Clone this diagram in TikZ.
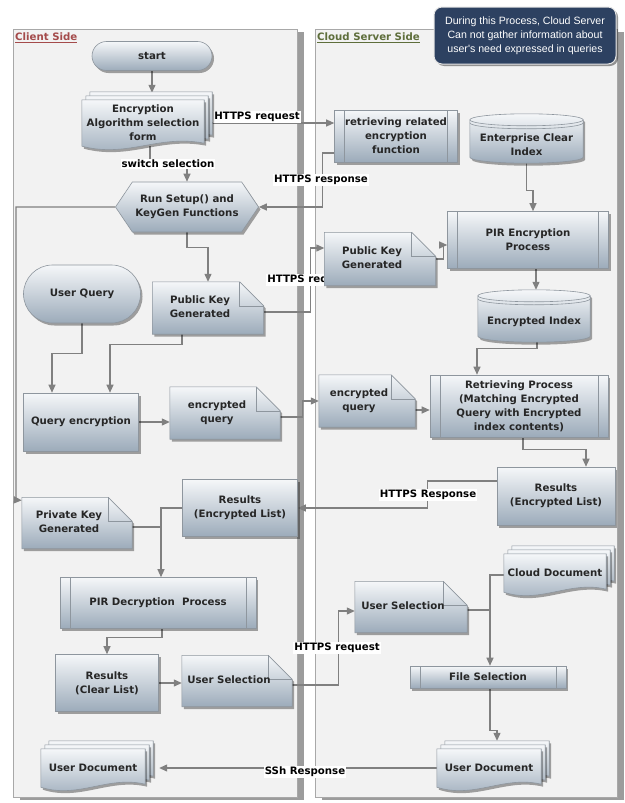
\documentclass[tikz,border=0pt]{standalone}
\usepackage{fontspec}
\setmainfont{DejaVu Sans}
\newfontfamily\calloutfont{Liberation Sans}
\usepackage{tikz}
\usetikzlibrary{arrows.meta, calc, shapes.misc, shapes.symbols, shadows}

\definecolor{boxtop}{HTML}{F5F7F9}
\definecolor{boxbot}{HTML}{9CABBA}
\definecolor{boxedge}{HTML}{8E969E}
\definecolor{flowgray}{HTML}{808080}
\definecolor{panelfill}{HTML}{F2F2F2}
\definecolor{paneledge}{HTML}{A8A8A8}
\definecolor{calloutfill}{HTML}{2D4161}
\definecolor{clientred}{HTML}{A44B4B}
\definecolor{cloudgreen}{HTML}{5E6E3B}
\definecolor{textgray}{HTML}{262626}

\pgfdeclarelayer{panellayer}
\pgfdeclarelayer{linklayer}
\pgfdeclarelayer{shapelayer}
\pgfsetlayers{panellayer,linklayer,shapelayer,main}

\tikzset{
    boxsize/.style 2 args={minimum width=#1pt, minimum height=#2pt},
    boxfill/.style={draw=boxedge, line width=0.6pt, top color=boxtop, bottom color=boxbot,
        drop shadow={shadow xshift=2pt, shadow yshift=-2.5pt, opacity=0.35, fill=black}},
    boxtext/.style={inner sep=0pt, align=center, text=textgray, font=\bfseries\fontsize{10.2}{14}\selectfont},
    box/.style={boxfill, boxtext, rectangle},
    terminal/.style={box, rounded rectangle},
    process/.style={box, path picture={
        \draw[boxedge, line width=0.6pt]
            ([xshift=10pt]path picture bounding box.north west) -- ([xshift=10pt]path picture bounding box.south west)
            ([xshift=-10pt]path picture bounding box.north east) -- ([xshift=-10pt]path picture bounding box.south east);}},
    prep/.style={box, signal, signal to=west and east, signal pointer angle=112},
    shapetext/.style={boxtext},
    notetext/.style={inner sep=0pt, text=textgray, font=\bfseries\fontsize{10.2}{14}\selectfont},
    flow/.style={draw=flowgray, line width=1.2pt, -{Triangle[length=8pt, width=7pt]}},
    link/.style={draw=flowgray, line width=1.2pt},
    linklabel/.style={fill=white, inner sep=1pt, text=black, font=\bfseries\fontsize{10.2}{12}\selectfont},
    panel/.style={fill=panelfill, draw=paneledge, line width=0.8pt,
        drop shadow={shadow xshift=7pt, shadow yshift=-3pt, opacity=0.55, fill=black!70}},
    sidetitle/.style={anchor=west, inner sep=0pt, font=\bfseries\fontsize{10.2}{12}\selectfont},
    remark/.style={rounded corners=8pt, fill=calloutfill, draw=white!80!gray, line width=1pt, text=white,
        align=center, inner sep=0pt, font=\calloutfont\fontsize{10.6}{14}\selectfont,
        drop shadow={shadow xshift=2pt, shadow yshift=-2pt, opacity=0.4, fill=black}}
}

\newcommand\notelines[1]{\begin{tabular}{@{}c@{}}#1\end{tabular}\hspace*{16pt}}
\newcommand\docpath[2]{%
    \path[boxfill] let \p1=(#1.north west), \p2=(#1.south east) in
        (\x1+#2, \y1+#2) -- (\x2+#2, \y1+#2) -- (\x2+#2, \y2+3+#2)
        .. controls ({0.5*\x1+0.5*\x2+15+#2}, \y2+12+#2) and ({0.5*\x1+0.5*\x2-15+#2}, \y2-12+#2) ..
        (\x1+#2, \y2+#2) -- cycle;}
\newcommand\multidoc[1]{\docpath{#1}{8}\docpath{#1}{4}\docpath{#1}{0}}
\newcommand\noteshape[1]{%
    \path[boxfill] (#1.north west) -- ([xshift=-24pt]#1.north east) -- ([yshift=-24pt]#1.north east)
        -- (#1.south east) -- (#1.south west) -- cycle;
    \draw[boxedge, line width=0.6pt] ([xshift=-24pt]#1.north east) |- ([yshift=-24pt]#1.north east);}
\newcommand\cylshape[1]{%
    \path[boxfill] let \p1=(#1.north west), \p2=(#1.south east), \n1={(\x2-\x1)/2} in
        (\x1, \y1+6) -- (\x1, \y2+6) arc[start angle=180, end angle=360, x radius=\n1, y radius=6pt]
        -- (\x2, \y1+6) arc[start angle=0, end angle=180, x radius=\n1, y radius=6pt] -- cycle;
    \draw[boxedge, line width=0.6pt] let \p1=(#1.north west), \p2=(#1.south east), \n1={(\x2-\x1)/2} in
        (\x1, \y1+6) arc[start angle=180, end angle=360, x radius=\n1, y radius=6pt]
        (\x1, \y1+3) arc[start angle=180, end angle=360, x radius=\n1, y radius=6pt];}

\begin{document}
\begin{tikzpicture}[x=1pt, y=1pt]
        \useasboundingbox (0, 0) rectangle (624, -803);

        \begin{pgfonlayer}{panellayer}
            \fill[white] (0, 0) rectangle (624, -803);
            \draw[panel] (13, -29) rectangle (297, -797);
            \draw[panel] (315, -29) rectangle (617, -797);
        \end{pgfonlayer}

        \node (clientttl) at (15, -38)[sidetitle, clientred] {\underline{Client Side}};

        \node (cloudttl) at (317, -38)[sidetitle, cloudgreen] {\underline{Cloud Server Side}};

        \node (remark) at (525, -35.5)[remark, boxsize={182}{57}] {During this Process, Cloud Server\\Can not gather information about\\user's need expressed in queries};

        \node (start) at (152, -56)[terminal, boxsize={120}{29}] {start};

        \node (form) at (143, -123)[shapetext, boxsize={122}{46}] {Encryption\\Algorithm selection\\form};

        \node (hexa) at (187, -207)[prep, boxsize={143}{50}] {Run Setup() and\\KeyGen Functions};

        \node (uq) at (82, -294)[terminal, boxsize={117}{58}] {User Query};

        \node (pkc) at (208, -308)[notetext, boxsize={111}{52}] {\notelines{Public Key\\Generated}};

        \node (qe) at (81, -422)[box, boxsize={115}{58}] {Query encryption};

        \node (eqc) at (225, -413)[notetext, boxsize={110}{52}] {\notelines{encrypted\\query}};

        \node (pkv) at (77, -523)[notetext, boxsize={110}{51}] {\notelines{Private Key\\Generated}};

        \node (rec) at (240, -508)[box, boxsize={115}{57}] {Results\\(Encrypted List)};

        \node (pird) at (158, -603)[process, boxsize={196}{51}] {PIR Decryption\ \ Process};

        \node (rcl) at (107, -683)[box, boxsize={103}{57}] {Results\\(Clear List)};

        \node (usc) at (237, -681)[notetext, boxsize={110}{51}] {\notelines{User Selection}};

        \node (udc) at (93, -768)[shapetext, boxsize={104}{38}] {User Document};

        \node (rref) at (396, -136)[process, boxsize={123}{52}] {retrieving related\\encryption\\function};

        \node (eci) at (526.5, -144.5)[shapetext, boxsize={113}{37}] {Enterprise Clear\\Index};

        \node (pire) at (528, -240)[process, boxsize={161}{57}] {PIR Encryption\\Process};

        \node (pkcl) at (380, -259)[notetext, boxsize={111}{53}] {\notelines{Public Key\\Generated}};

        \node (ei) at (534, -322)[shapetext, boxsize={112}{40}] {Encrypted Index};

        \node (eqcl) at (367, -401)[notetext, boxsize={96}{52}] {\notelines{encrypted\\query}};

        \node (rp) at (519, -406)[process, boxsize={178}{62}] {Retrieving Process\\(Matching Encrypted\\Query with Encrypted\\index contents)};

        \node (recl) at (556, -496)[box, boxsize={118}{58}] {Results\\(Encrypted List)};

        \node (cd) at (555, -573)[shapetext, boxsize={102}{38}] {Cloud Document};

        \node (uscl) at (411, -607)[notetext, boxsize={112}{51}] {\notelines{User Selection}};

        \node (fs) at (488, -677)[process, boxsize={156}{22}] {File Selection};

        \node (udcl) at (489, -768)[shapetext, boxsize={104}{38}] {User Document};

        \begin{pgfonlayer}{shapelayer}
            \multidoc{form}
            \noteshape{pkc}
            \noteshape{eqc}
            \noteshape{pkv}
            \noteshape{usc}
            \multidoc{udc}
            \cylshape{eci}
            \noteshape{pkcl}
            \cylshape{ei}
            \noteshape{eqcl}
            \multidoc{cd}
            \noteshape{uscl}
            \multidoc{udcl}
        \end{pgfonlayer}

        \begin{pgfonlayer}{linklayer}
            \draw[flow] (start.south) -- ++(0, -22);

            \draw[flow] ([xshift=7pt]form.south) -- ++(0, -18) -| (hexa.north);
            \node (lsw) at (168, -164)[linklabel] {switch selection};

            \draw[flow] ([xshift=8pt]form.east) -- (rref.west |- form.east);
            \node (lreq1) at (257, -117)[linklabel] {HTTPS request};

            \draw[flow] ([yshift=-17pt]rref.west) -- ++(-12, 0) |- (hexa.east);
            \node (lresp1) at (321, -180)[linklabel] {HTTPS response};

            \draw[flow] (hexa.south) -- ++(0, -15) -| (pkc.north);

            \draw[flow] (hexa.west) -| (16, -500) -- ([yshift=-3pt]pkv.north west);

            \draw[flow] (uq.south) -- ++(0, -30) -| ([xshift=-29pt]qe.north);

            \draw[flow] ([xshift=-26pt]pkc.south) -- ++(0, -10) -| ([xshift=29pt]qe.north);

            \draw[flow] (qe.east) -- (eqc.west |- qe.east);

            \draw[flow] ([yshift=-4pt]pkc.east) -- ++(47, 0) |- ([yshift=11pt]pkcl.west);
            \node (lreq2) at (310, -280)[linklabel] {HTTPS request};

            \draw[flow] ([yshift=-4pt]eqc.east) -- ++(22, 0) |- (eqcl.west);

            \draw[flow] (eci.south) -- ++(0, -27) -| ([xshift=5pt]pire.north);

            \draw[flow] (pkcl.east) -- ++(8, 0) |- ([yshift=-5pt]pire.west);

            \draw[flow] ([xshift=8pt]pire.south) -- ([xshift=2pt, yshift=12pt]ei.north);

            \draw[flow] ([xshift=3pt]ei.south) -- ++(0, -6) -| ([xshift=-42pt]rp.north);

            \draw[flow] ([yshift=-9pt]eqcl.east) -- ([yshift=-9pt]eqcl.east -| rp.west);

            \draw[flow] ([xshift=4pt]rp.south) -- ++(0, -12) -| ([xshift=30pt]recl.north);

            \draw[flow] ([yshift=15pt]recl.west) -- ++(-69, 0) |- (rec.east);
            \node (lresp2) at (428, -495)[linklabel] {HTTPS Response};

            \draw[flow] (rec.west) -| ([xshift=3pt]pird.north);

            \draw[link] ([yshift=-4pt]pkv.east) -- ++(29, 0);

            \draw[flow] ([xshift=4pt]pird.south) -- ++(0, -9) -| (rcl.north);

            \draw[flow] (rcl.east) -- (rcl.east -| usc.west);

            \draw[flow] ([yshift=-4pt]usc.east) -- ++(46, 0) |- ([yshift=-4pt]uscl.west);
            \node (lreq3) at (337, -648)[linklabel] {HTTPS request};

            \draw[flow] ([yshift=-2pt]cd.west) -| ([xshift=2pt]fs.north);

            \draw[link] ([yshift=-3pt]uscl.east) -- ++(23, 0);

            \draw[flow] ([xshift=2pt]fs.south) -- ++(0, -42) -| ([xshift=8pt, yshift=8pt]udcl.north);

            \draw[flow] (udcl.west) -- ([xshift=14pt]udc.east);
            \node (lssh) at (305, -772)[linklabel] {SSh Response};
        \end{pgfonlayer}
    \end{tikzpicture}
\end{document}
